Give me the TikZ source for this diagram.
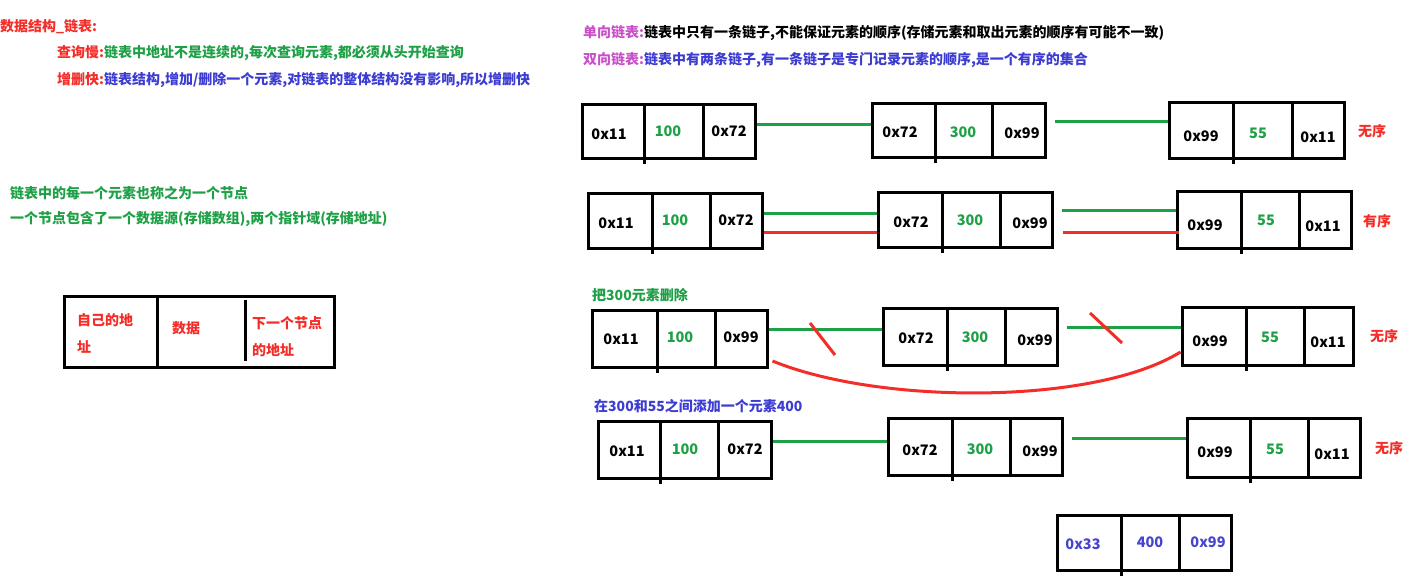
\documentclass[tikz,border=0pt]{standalone}
\usepackage{fontspec}
\setmainfont{Noto Sans CJK SC}
\definecolor{cred}{RGB}{245,45,40}
\definecolor{cgreen}{RGB}{30,160,70}
\definecolor{cblue}{RGB}{60,60,210}
\definecolor{cpink}{RGB}{200,80,200}
\definecolor{cblue2}{RGB}{70,70,205}
\newcommand\lnode[8]{%
  \node[lbox, minimum width={#4-#2}, minimum height={#5-#3}] (#1) at ({(#2+#4)/2},{(#3+#5)/2}) {};
  \draw[lbline] (#6,#3) -- (#6,#5+#8);
  \draw[lbline] (#7,#3) -- (#7,#5);
}
\begin{document}
\begin{tikzpicture}[x=1pt,y=-1pt,
  lbox/.style={draw=black, line width=3pt, inner sep=0pt, rectangle},
  lbline/.style={draw=black, line width=3pt},
  txt/.style={font=\bfseries\fontsize{14}{16}\selectfont, inner sep=0pt, anchor=west},
  lab/.style={font=\bfseries\fontsize{14.5}{16}\selectfont, inner sep=0pt},
  adr/.style={lab, text=black},
  val/.style={lab, text=cgreen},
  gl/.style={draw=cgreen, line width=3pt},
  rl/.style={draw=cred, line width=3pt}]
\useasboundingbox[fill=white] (0,0) rectangle (1408,586);

% ---- left texts
\node[txt, text=cred] (t0) at (0,27) {数据结构\_链表:};
\node[txt] (t1) at (57,53) {\textcolor{cred}{查询慢:}\textcolor{cgreen}{链表中地址不是连续的,每次查询元素,都必须从头开始查询}};
\node[txt] (t2) at (57,80) {\textcolor{cred}{增删快:}\textcolor{cblue}{链表结构,增加/删除一个元素,对链表的整体结构没有影响,所以增删快}};
\node[txt, text=cgreen] (t3) at (10,193) {链表中的每一个元素也称之为一个节点};
\node[txt, text=cgreen] (t4) at (10,219) {一个节点包含了一个数据源(存储数组),两个指针域(存储地址)};

% ---- left node diagram
\node[lbox, minimum width=270, minimum height=71] (nd) at (199,331.5) {};
\draw[lbline] (157,296) -- (157,367);
\draw[lbline] (245,300) -- (245,361);
\node[txt, text=cred] (nd1) at (77,320) {自己的地};
\node[txt, text=cred] (nd2) at (77,347) {址};
\node[txt, text=cred] (nd3) at (172,328) {数据};
\node[txt, text=cred] (nd4) at (252,323) {下一个节点};
\node[txt, text=cred] (nd5) at (252,350) {的地址};

% ---- right texts
\node[txt] (t5) at (583,33) {\textcolor{cpink}{单向链表:}\textcolor{black}{链表中只有一条链子,不能保证元素的顺序(存储元素和取出元素的顺序有可能不一致)}};
\node[txt] (t6) at (583,60) {\textcolor{cpink}{双向链表:}\textcolor{cblue}{链表中有两条链子,有一条链子是专门记录元素的顺序,是一个有序的集合}};

% ---- row 1
\lnode{r1a}{582}{104}{755}{158}{644}{703}{6}
\lnode{r1b}{872}{103}{1045}{157}{935}{992}{6}
\lnode{r1c}{1169}{102}{1344}{158}{1233}{1292}{6}
\node[adr] (r1a1) at (609,134) {0x11};
\node[val] (r1a2) at (668,131) {100};
\node[adr] (r1a3) at (729,131) {0x72};
\node[adr] (r1b1) at (900,132) {0x72};
\node[val] (r1b2) at (963,132) {300};
\node[adr] (r1b3) at (1022,133) {0x99};
\node[adr] (r1c1) at (1201,136) {0x99};
\node[val] (r1c2) at (1258,133) {55};
\node[adr] (r1c3) at (1318,137) {0x11};
\node[txt, text=cred] (r1l) at (1358,131) {无序};
\draw[gl] (r1a.east |- 0,124) -- (r1b.west |- 0,124);
\draw[gl] ([xshift=8pt]r1b.east |- 0,121) -- (r1c.west |- 0,121);

% ---- row 2
\lnode{r2a}{588}{193}{762}{248}{652}{710}{6}
\lnode{r2b}{878}{192}{1052}{247}{942}{1000}{6}
\lnode{r2c}{1177}{191}{1351}{248}{1241}{1299}{6}
\node[adr] (r2a1) at (616,223) {0x11};
\node[val] (r2a2) at (675,220) {100};
\node[adr] (r2a3) at (736,220) {0x72};
\node[adr] (r2b1) at (911,222) {0x72};
\node[val] (r2b2) at (970,220) {300};
\node[adr] (r2b3) at (1030,223) {0x99};
\node[adr] (r2c1) at (1205,225) {0x99};
\node[val] (r2c2) at (1266,220) {55};
\node[adr] (r2c3) at (1323,226) {0x11};
\node[txt, text=cred] (r2l) at (1363,221) {有序};
\draw[gl] (r2a.east |- 0,213) -- (r2b.west |- 0,213);
\draw[rl] (r2a.east |- 0,232) -- (r2b.west |- 0,232);
\draw[gl] ([xshift=8pt]r2b.east |- 0,210) -- (r2c.west |- 0,210);
\draw[rl] ([xshift=9pt]r2b.east |- 0,232) -- ([xshift=3pt]r2c.west |- 0,232);

% ---- row 3
\node[txt, text=cgreen] (r3t) at (592,295) {把300元素删除};
\lnode{r3a}{592}{310}{767}{367}{657}{715}{6}
\lnode{r3b}{883}{308}{1057}{365}{947}{1005}{6}
\lnode{r3c}{1182}{307}{1353}{365}{1246}{1304}{6}
\node[adr] (r3a1) at (621,339) {0x11};
\node[val] (r3a2) at (680,337) {100};
\node[adr] (r3a3) at (741,337) {0x99};
\node[adr] (r3b1) at (916,338) {0x72};
\node[val] (r3b2) at (975,337) {300};
\node[adr] (r3b3) at (1035,340) {0x99};
\node[adr] (r3c1) at (1210,341) {0x99};
\node[val] (r3c2) at (1270,337) {55};
\node[adr] (r3c3) at (1328,342) {0x11};
\node[txt, text=cred] (r3l) at (1370,336) {无序};
\draw[gl] (r3a.east |- 0,329) -- (r3b.west |- 0,329);
\draw[gl] ([xshift=8pt]r3b.east |- 0,327) -- (r3c.west |- 0,327);
\coordinate (s1a) at (810,323); \coordinate (s1b) at (835,355);
\coordinate (s2a) at (1090,313); \coordinate (s2b) at (1122,343);
\draw[rl] (s1a) -- (s1b);
\draw[rl] (s2a) -- (s2b);
\draw[rl] ([xshift=4pt]r3a.east |- 0,361) .. controls (880,405) and (1095,405) .. (r3c.west |- 0,352);

% ---- row 4
\node[txt, text=cblue] (r4t) at (594,406) {在300和55之间添加一个元素400};
\lnode{r4a}{598}{421}{771}{478}{660}{718}{6}
\lnode{r4b}{888}{418}{1062}{475}{952}{1010}{6}
\lnode{r4c}{1187}{418}{1360}{477}{1250}{1308}{6}
\node[adr] (r4a1) at (627,451) {0x11};
\node[val] (r4a2) at (685,449) {100};
\node[adr] (r4a3) at (745,449) {0x72};
\node[adr] (r4b1) at (920,450) {0x72};
\node[val] (r4b2) at (980,449) {300};
\node[adr] (r4b3) at (1040,451) {0x99};
\node[adr] (r4c1) at (1215,452) {0x99};
\node[val] (r4c2) at (1275,449) {55};
\node[adr] (r4c3) at (1332,454) {0x11};
\node[txt, text=cred] (r4l) at (1375,448) {无序};
\draw[gl] (r4a.east |- 0,441) -- (r4b.west |- 0,441);
\draw[gl] ([xshift=8pt]r4b.east |- 0,438) -- (r4c.west |- 0,438);

% ---- row 5 (new node)
\lnode{r5}{1057}{515}{1231}{570}{1121}{1179}{6}
\node[lab, text=cblue2] (r51) at (1083,544) {0x33};
\node[lab, text=cblue2] (r52) at (1150,542) {400};
\node[lab, text=cblue2] (r53) at (1208,542) {0x99};
\end{tikzpicture}
\end{document}
